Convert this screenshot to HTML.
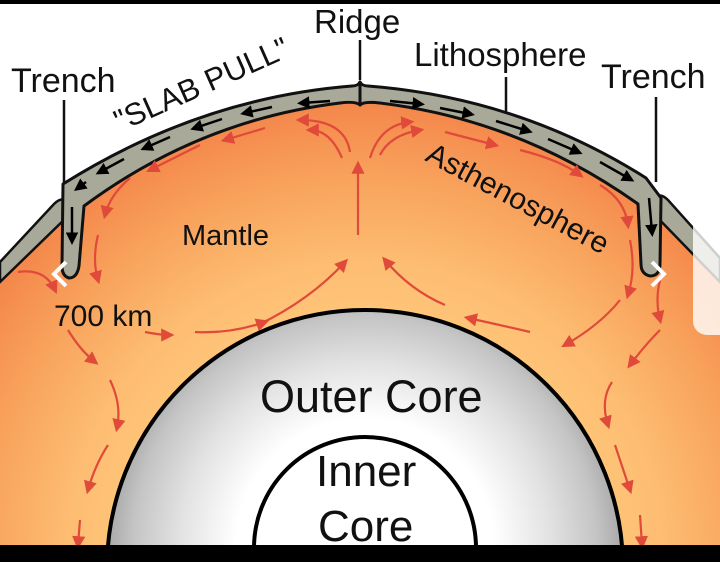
<!DOCTYPE html>
<html><head><meta charset="utf-8"><style>
html,body{margin:0;padding:0;background:#fff;width:720px;height:562px;overflow:hidden;}
svg{display:block;}
text{font-family:"Liberation Sans",sans-serif;fill:#111;}
</style></head><body>
<svg width="720" height="562" viewBox="0 0 720 562" xmlns="http://www.w3.org/2000/svg">
<defs>
<radialGradient id="man" cx="365" cy="560" r="480" gradientUnits="userSpaceOnUse">
<stop offset="0.45" stop-color="#ffc97c"/>
<stop offset="0.62" stop-color="#fdbd72"/>
<stop offset="0.8" stop-color="#f8a25c"/>
<stop offset="0.95" stop-color="#f4874b"/>
</radialGradient>
<radialGradient id="oc" cx="365" cy="548" r="258" gradientUnits="userSpaceOnUse">
<stop offset="0.5" stop-color="#ffffff"/>
<stop offset="0.72" stop-color="#e2e2e2"/>
<stop offset="0.9" stop-color="#c4c4c4"/>
<stop offset="1" stop-color="#a8a8a8"/>
</radialGradient>
<marker id="ra" markerWidth="6" markerHeight="6" refX="4" refY="3" orient="auto" markerUnits="strokeWidth"><path d="M0,0 L6,3 L0,6 Z" fill="#e04a3a"/></marker>
<marker id="ba" markerWidth="5" markerHeight="5" refX="3" refY="2.5" orient="auto" markerUnits="strokeWidth"><path d="M0,0 L5,2.5 L0,5 Z" fill="#000"/></marker>
</defs>
<path d="M0,275 L58,208 Q62,200 68,198 L72,200 Q200,104 360,92 Q520,104 648,195 L660,205 L720,270 L720,545 L0,545 Z" fill="url(#man)"/>
<path d="M0,262 L54,204 Q62,196 68,202 L70,214 L0,282 Z" fill="#a9a99a" stroke="#111" stroke-width="2.5"/>
<path d="M720,258 L668,200 Q660,192 654,198 L652,212 L720,282 Z" fill="#a9a99a" stroke="#111" stroke-width="2.5"/>
<path d="M63,184 Q200,98 352,86 Q358,86 360,82 L360,105 Q356,101 340,103 Q200,120 84,206 L79,266 Q77,278 69,278 Q62,276 62,266 Z" fill="#a9a99a" stroke="#111" stroke-width="3" stroke-linejoin="round"/>
<path d="M360,82 Q362,86 368,86 Q520,98 646,178 L661,198 L660,264 Q660,276 650,276 Q641,274 641,264 L638,204 Q520,120 380,103 Q364,101 360,105 Z" fill="#a9a99a" stroke="#111" stroke-width="3" stroke-linejoin="round"/>
<g stroke="#000" stroke-width="2.5" fill="none" marker-end="url(#ba)">
<path d="M330,101 L302,103"/><path d="M272,107 L245,113"/><path d="M222,119 L195,128"/><path d="M170,137 L145,148"/><path d="M124,159 L100,172"/><path d="M86,182 L78,188"/><path d="M72,207 L72,240"/>
<path d="M390,101 L420,104"/><path d="M440,108 L470,114"/><path d="M496,121 L528,131"/><path d="M548,139 L578,152"/><path d="M600,162 L630,179"/><path d="M649,198 L652,232"/>
</g>
<g stroke="#e04a3a" stroke-width="2.2" fill="none" marker-end="url(#ra)">
<path d="M342,158 Q330,130 310,130"/><path d="M350,152 Q345,120 300,120"/><path d="M265,128 L225,140"/><path d="M200,145 L150,170"/><path d="M130,178 Q110,195 105,215"/><path d="M98,235 Q92,260 98,280"/>
<path d="M370,158 Q380,125 410,122"/><path d="M380,155 Q390,135 420,130"/><path d="M445,132 L495,145"/><path d="M520,150 Q560,160 580,175"/><path d="M600,185 Q625,200 628,225"/><path d="M630,240 Q636,270 628,295"/>
<path d="M358,235 L358,165"/>
<path d="M258,325 Q310,300 345,262"/><path d="M195,332 Q230,334 265,322"/><path d="M145,332 Q160,335 170,335"/>
<path d="M445,305 Q410,290 385,260"/><path d="M530,332 Q500,325 468,318"/><path d="M620,300 Q600,325 565,345"/><path d="M18,272 Q45,268 55,290"/>
<path d="M68,330 Q80,350 95,362"/><path d="M110,380 Q122,405 117,428"/><path d="M108,445 Q95,465 88,490"/><path d="M80,520 L78,545"/>
<path d="M660,280 Q655,300 660,320"/><path d="M660,330 Q645,345 630,365"/><path d="M612,382 Q600,400 608,425"/><path d="M615,445 L630,490"/><path d="M640,515 L642,545"/>
</g>
<circle cx="365" cy="568" r="258" fill="url(#oc)" stroke="#000" stroke-width="4"/>
<circle cx="365" cy="548" r="111" fill="#fff" stroke="#000" stroke-width="4"/>
<g stroke="#111" stroke-width="2.5">
<line x1="64" y1="100" x2="64" y2="183"/><line x1="360" y1="40" x2="360" y2="80"/><line x1="506" y1="77" x2="506" y2="112"/><line x1="656" y1="97" x2="656" y2="182"/>
</g>
<text x="11" y="92" font-size="34">Trench</text>
<text x="314" y="33" font-size="33">Ridge</text>
<text x="414" y="66" font-size="33">Lithosphere</text>
<text x="601" y="88" font-size="34">Trench</text>
<text x="0" y="0" font-size="31" transform="translate(120,132) rotate(-24)">"SLAB PULL"</text>
<text x="182" y="245" font-size="29">Mantle</text>
<text x="0" y="0" font-size="30" transform="translate(424,160) rotate(28)">Asthenosphere</text>
<text x="54" y="326" font-size="30">700 km</text>
<text x="260" y="412" font-size="45">Outer Core</text>
<text x="316" y="486" font-size="44">Inner</text>
<text x="318" y="541" font-size="44">Core</text>
<rect x="693" y="125" width="40" height="210" rx="14" fill="#fff" fill-opacity="0.8"/>
<path d="M66,262 L54,274 L66,286" stroke="#fff" stroke-width="4" fill="none"/>
<path d="M652,262 L664,274 L652,286" stroke="#fff" stroke-width="4" fill="none"/>
<rect x="0" y="0" width="720" height="4" fill="#000"/>
<rect x="0" y="545" width="720" height="17" fill="#000"/>
</svg>
</body></html>
